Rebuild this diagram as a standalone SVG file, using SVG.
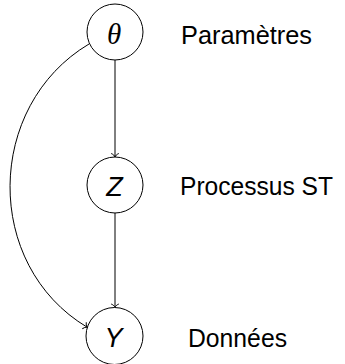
<svg xmlns="http://www.w3.org/2000/svg" width="345" height="364" viewBox="0 0 345 364">
<style>
.node{fill:#fff;stroke:#000;stroke-width:1}
.edge{fill:none;stroke:#000;stroke-width:1}
.lbl{font-family:"Liberation Sans","DejaVu Sans",sans-serif;font-size:26px;fill:#000}
.mathit{font-family:"Liberation Sans","DejaVu Sans",sans-serif;font-style:italic;font-size:27px;fill:#000}
.greek{font-family:"Liberation Serif","DejaVu Serif",serif;font-style:italic;font-size:29px;fill:#000}
</style>
<defs>
<marker id="to" markerUnits="userSpaceOnUse" viewBox="-5 -5 6 10" refX="0" refY="0" markerWidth="6" markerHeight="10" orient="auto" overflow="visible">
<path d="M-3.5,-3.8 C-2.6,-1.6 -1.2,-0.4 0,0 C-1.2,0.4 -2.6,1.6 -3.5,3.8" fill="none" stroke="#000" stroke-width="1"/>
</marker>
</defs>
<g id="connectors">
<path class="edge" d="M115,60 L115,157" marker-end="url(#to)"/>
<path class="edge" d="M115,213 L115,307.5" marker-end="url(#to)"/>
<path class="edge" d="M89,44 C-15,106 -17,265 87.3,327.3" marker-end="url(#to)"/>
</g>
<g id="theta">
<circle class="node" cx="115" cy="32" r="28"/>
<text class="greek" x="114" y="43.5" text-anchor="middle">θ</text>
</g>
<g id="Z">
<circle class="node" cx="115" cy="185" r="28"/>
<text class="mathit" x="114.5" y="196" text-anchor="middle">Z</text>
</g>
<g id="Y">
<circle class="node" cx="114.5" cy="336" r="28.5"/>
<text class="mathit" x="113.5" y="347" text-anchor="middle">Y</text>
</g>
<g id="labels">
<text class="lbl" x="181" y="44" textLength="131" lengthAdjust="spacingAndGlyphs">Paramètres</text>
<text class="lbl" x="180" y="195" textLength="153" lengthAdjust="spacingAndGlyphs">Processus ST</text>
<text class="lbl" x="188" y="347" textLength="99" lengthAdjust="spacingAndGlyphs">Données</text>
</g>
</svg>
